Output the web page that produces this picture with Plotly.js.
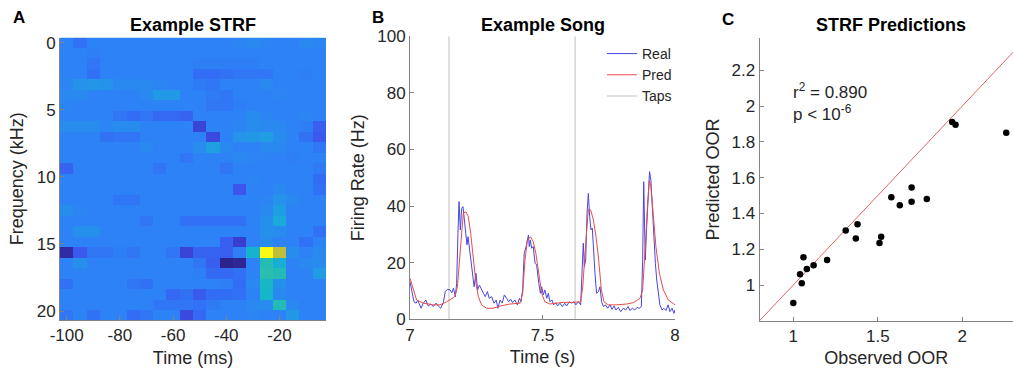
<!DOCTYPE html>
<html>
<head>
<meta charset="utf-8">
<script src="https://cdn.plot.ly/plotly-3.0.1.min.js"></script>
<style>
  html, body { margin: 0; padding: 0; background: #fff; overflow: hidden; }
  #chart { width: 1013px; height: 370px; }
</style>
</head>
<body>
<div id="chart"></div>
<script>
// ---------- Panel A: STRF ----------
const strfTime = [-100, -95, -90, -85, -80, -75, -70, -65, -60, -55, -50, -45, -40, -35, -30, -25, -20, -15, -10, -5];
const strfFreq = [0, 0.78, 1.56, 2.34, 3.12, 3.9, 4.68, 5.46, 6.24, 7.02, 7.8, 8.58, 9.36, 10.14, 10.92, 11.7, 12.48, 13.26, 14.04, 14.82, 15.6, 16.38, 17.16, 17.94, 18.72, 19.5, 20.28];
const strfWeights = [
  [0.22,0.18,0.22,0.22,0.22,0.22,0.22,0.22,0.22,0.22,0.22,0.22,0.22,0.23,0.24,0.23,0.22,0.22,0.24,0.23],
  [0.22,0.22,0.21,0.22,0.22,0.22,0.22,0.22,0.22,0.22,0.22,0.22,0.22,0.22,0.22,0.22,0.22,0.22,0.22,0.22],
  [0.22,0.22,0.19,0.22,0.22,0.22,0.22,0.22,0.22,0.22,0.21,0.21,0.21,0.21,0.21,0.22,0.22,0.22,0.22,0.22],
  [0.22,0.22,0.18,0.22,0.22,0.22,0.22,0.22,0.22,0.22,0.17,0.17,0.18,0.19,0.19,0.19,0.22,0.22,0.21,0.22],
  [0.23,0.27,0.28,0.27,0.24,0.24,0.24,0.23,0.22,0.22,0.20,0.19,0.22,0.22,0.22,0.24,0.22,0.22,0.22,0.22],
  [0.24,0.24,0.22,0.22,0.22,0.22,0.24,0.29,0.29,0.22,0.22,0.20,0.19,0.22,0.22,0.22,0.23,0.22,0.22,0.22],
  [0.23,0.22,0.22,0.22,0.22,0.22,0.22,0.22,0.22,0.22,0.22,0.19,0.19,0.21,0.22,0.22,0.22,0.22,0.22,0.22],
  [0.22,0.22,0.22,0.22,0.19,0.17,0.19,0.16,0.16,0.15,0.22,0.22,0.22,0.22,0.25,0.23,0.22,0.22,0.23,0.22],
  [0.25,0.25,0.25,0.23,0.25,0.25,0.22,0.22,0.22,0.22,0.09,0.22,0.22,0.23,0.25,0.24,0.24,0.22,0.21,0.14],
  [0.22,0.22,0.22,0.18,0.19,0.19,0.22,0.22,0.22,0.22,0.22,0.10,0.22,0.27,0.28,0.31,0.25,0.22,0.18,0.13],
  [0.22,0.22,0.22,0.22,0.22,0.22,0.24,0.22,0.22,0.22,0.25,0.32,0.24,0.22,0.22,0.24,0.24,0.22,0.22,0.19],
  [0.22,0.22,0.22,0.22,0.22,0.22,0.22,0.22,0.22,0.19,0.22,0.22,0.22,0.24,0.23,0.22,0.22,0.21,0.22,0.22],
  [0.15,0.22,0.22,0.22,0.22,0.22,0.22,0.19,0.22,0.22,0.22,0.22,0.19,0.22,0.22,0.22,0.22,0.22,0.22,0.20],
  [0.22,0.22,0.22,0.22,0.22,0.22,0.22,0.22,0.22,0.22,0.22,0.22,0.22,0.22,0.23,0.22,0.22,0.22,0.22,0.17],
  [0.22,0.22,0.22,0.22,0.22,0.22,0.22,0.22,0.22,0.22,0.22,0.22,0.22,0.12,0.22,0.22,0.24,0.22,0.22,0.18],
  [0.22,0.22,0.22,0.22,0.19,0.19,0.22,0.22,0.22,0.22,0.22,0.22,0.22,0.22,0.22,0.23,0.27,0.24,0.22,0.22],
  [0.25,0.23,0.22,0.22,0.22,0.22,0.22,0.22,0.22,0.22,0.22,0.22,0.22,0.22,0.22,0.24,0.31,0.22,0.22,0.22],
  [0.22,0.22,0.22,0.22,0.22,0.22,0.19,0.22,0.22,0.18,0.18,0.18,0.18,0.18,0.22,0.26,0.36,0.22,0.22,0.22],
  [0.22,0.26,0.26,0.22,0.22,0.22,0.22,0.22,0.22,0.22,0.22,0.22,0.22,0.22,0.22,0.26,0.25,0.22,0.22,0.18],
  [0.22,0.22,0.22,0.22,0.22,0.22,0.22,0.22,0.22,0.22,0.22,0.22,0.14,0.08,0.22,0.25,0.22,0.22,0.18,0.22],
  [0.03,0.13,0.19,0.19,0.21,0.19,0.22,0.22,0.19,0.09,0.15,0.15,0.14,0.21,0.40,1.00,0.80,0.25,0.22,0.24],
  [0.22,0.26,0.22,0.22,0.22,0.22,0.22,0.22,0.22,0.22,0.19,0.14,0.00,0.01,0.22,0.47,0.38,0.22,0.24,0.25],
  [0.22,0.22,0.22,0.22,0.22,0.22,0.22,0.22,0.22,0.22,0.21,0.16,0.16,0.18,0.22,0.48,0.46,0.22,0.22,0.30],
  [0.18,0.22,0.22,0.22,0.22,0.19,0.18,0.22,0.22,0.22,0.22,0.22,0.21,0.17,0.24,0.43,0.26,0.22,0.22,0.22],
  [0.22,0.22,0.22,0.22,0.22,0.22,0.22,0.22,0.16,0.18,0.13,0.17,0.17,0.18,0.22,0.42,0.24,0.22,0.22,0.22],
  [0.22,0.22,0.22,0.22,0.22,0.22,0.22,0.19,0.19,0.19,0.18,0.20,0.22,0.22,0.24,0.25,0.46,0.24,0.22,0.22],
  [0.19,0.22,0.18,0.22,0.22,0.17,0.19,0.22,0.22,0.10,0.16,0.22,0.22,0.22,0.23,0.22,0.22,0.28,0.22,0.22]
];
const strfTicks = [-100, -80, -60, -40, -20];
const strfTickLabels = ['-100', '-80', '-60', '-40', '-20'];
const freqTicks = [0, 5, 10, 15, 20];

// ---------- Panel B: example song ----------
const realTime = [7.000,7.006,7.015,7.023,7.029,7.035,7.042,7.050,7.060,7.069,7.078,7.088,7.098,7.107,7.116,7.126,7.133,7.141,7.151,7.158,7.164,7.171,7.176,7.181,7.185,7.190,7.195,7.200,7.205,7.211,7.215,7.219,7.226,7.234,7.242,7.249,7.255,7.262,7.269,7.277,7.284,7.292,7.299,7.308,7.317,7.325,7.332,7.340,7.348,7.356,7.365,7.372,7.380,7.387,7.396,7.405,7.413,7.419,7.425,7.431,7.438,7.443,7.447,7.450,7.454,7.459,7.465,7.472,7.478,7.486,7.492,7.497,7.503,7.509,7.516,7.522,7.528,7.536,7.542,7.550,7.557,7.566,7.575,7.584,7.591,7.601,7.610,7.619,7.626,7.635,7.644,7.650,7.654,7.658,7.663,7.668,7.673,7.678,7.683,7.688,7.693,7.698,7.704,7.711,7.717,7.723,7.730,7.738,7.746,7.755,7.762,7.770,7.777,7.786,7.795,7.805,7.814,7.823,7.830,7.839,7.848,7.857,7.865,7.873,7.878,7.882,7.886,7.888,7.893,7.899,7.904,7.909,7.914,7.919,7.926,7.931,7.937,7.943,7.951,7.958,7.966,7.974,7.981,7.989,7.996,8.000];
const realRate = [13.3,10.4,6.2,5.7,6.8,5.4,3.9,5.7,6.8,4.7,5.4,4.5,5.7,4.7,3.9,5.9,9.8,10.6,10.4,9.4,11.0,8.0,12.7,30.4,41.6,31.6,39.2,39.8,35.7,30.4,26.3,29.2,23.3,17.4,11.5,16.3,10.4,12.1,10.4,9.2,8.0,9.8,7.4,8.0,5.7,6.8,3.9,6.8,5.7,8.6,7.4,6.2,7.1,5.9,6.8,5.1,7.4,6.2,10.4,23.3,25.7,28.0,29.8,25.7,28.0,25.1,25.7,19.8,19.2,12.7,9.2,11.5,8.6,10.4,7.4,9.2,6.2,6.8,5.1,5.9,4.7,5.7,4.5,5.7,4.7,6.2,5.7,6.2,5.1,6.2,5.1,18.6,26.9,18.6,21.0,37.5,44.5,36.3,31.6,32.2,23.3,16.3,9.2,9.8,11.5,6.2,4.5,5.1,3.9,5.1,3.5,4.7,3.3,4.2,2.7,3.9,3.3,4.5,3.1,3.9,3.3,4.2,3.9,4.5,21.0,48.6,29.2,21.0,32.7,45.7,52.2,49.2,39.8,30.4,19.8,13.9,9.2,5.1,3.3,3.9,3.1,5.1,2.7,3.9,2.1,3.3];
const predTime = [7.000,7.013,7.025,7.050,7.088,7.113,7.138,7.164,7.170,7.179,7.186,7.194,7.201,7.211,7.220,7.229,7.239,7.249,7.258,7.270,7.289,7.314,7.340,7.377,7.415,7.425,7.434,7.443,7.455,7.465,7.475,7.486,7.497,7.509,7.528,7.553,7.579,7.616,7.644,7.652,7.658,7.664,7.673,7.682,7.692,7.702,7.712,7.722,7.732,7.748,7.780,7.818,7.843,7.868,7.878,7.884,7.891,7.896,7.903,7.909,7.918,7.928,7.941,7.956,7.975,7.994,8.000];
const predRate = [14.5,10.4,6.8,5.7,5.1,5.1,6.2,7.7,8.2,11.5,21.0,31.6,37.5,38.0,36.3,30.4,22.1,12.7,8.0,5.1,3.9,3.9,4.7,5.4,5.7,9.2,21.0,28.0,29.2,27.4,23.3,16.3,9.2,6.2,5.4,5.7,6.0,6.0,6.2,11.5,21.0,28.0,38.9,38.6,35.1,29.2,21.0,10.4,6.2,5.1,5.1,5.4,5.9,7.4,10.4,18.6,30.4,39.8,49.0,46.9,37.5,25.7,16.3,10.4,6.8,5.4,5.1];
const tapTimes = [7.147, 7.623];
const rateRange = [0, 100];
const songTicks = [7, 7.5, 8];

// ---------- Panel C: STRF predictions ----------
const observedOOR = [1.00,1.05,1.04,1.06,1.08,1.12,1.20,1.31,1.37,1.38,1.51,1.52,1.58,1.63,1.70,1.70,1.79,1.94,1.96,2.26];
const predictedOOR = [0.90,1.01,1.06,1.155,1.09,1.11,1.14,1.305,1.26,1.34,1.235,1.27,1.49,1.445,1.545,1.465,1.48,1.91,1.895,1.85];
const unityLine = [0.8, 2.4];
const oorXTicks = [1, 1.5, 2];
const oorYTicks = [1, 1.2, 1.4, 1.6, 1.8, 2, 2.2];
const statsText = 'r<sup>2</sup> = 0.890<br>p < 10<sup>-6</sup>';

// ---------- styling ----------
const W = 1013, H = 370;
const px = v => v / W;
const py = v => 1 - v / H;
const FONT = 'Liberation Sans, Arial, Helvetica, sans-serif';
const TXT = '#262626';
const AXC = 'rgb(130,130,130)';

const parulaLike = [
  [0.00, 'rgb(45,35,140)'],
  [0.06, 'rgb(55,50,195)'],
  [0.12, 'rgb(60,85,235)'],
  [0.17, 'rgb(50,110,245)'],
  [0.22, 'rgb(45,130,245)'],
  [0.28, 'rgb(35,150,232)'],
  [0.34, 'rgb(28,165,222)'],
  [0.42, 'rgb(20,182,200)'],
  [0.52, 'rgb(55,195,155)'],
  [0.70, 'rgb(150,195,90)'],
  [0.82, 'rgb(200,190,55)'],
  [0.90, 'rgb(235,205,40)'],
  [1.00, 'rgb(250,250,20)']
];

function axisBase(extra) {
  return Object.assign({
    showline: true, linecolor: AXC, linewidth: 1,
    ticks: 'inside', ticklen: 4, tickcolor: AXC, tickwidth: 1,
    tickfont: {size: 17, color: TXT, family: FONT},
    showgrid: false, zeroline: false, fixedrange: true
  }, extra);
}

const tapX = [], tapY = [];
tapTimes.forEach(t => { tapX.push(t, t, null); tapY.push(rateRange[0], rateRange[1], null); });

const traces = [
  {type: 'heatmap', x: strfTime, y: strfFreq, z: strfWeights, colorscale: parulaLike,
   zmin: 0, zmax: 1, showscale: false, xaxis: 'x', yaxis: 'y', hoverinfo: 'skip', showlegend: false},
  {type: 'scatter', mode: 'lines', x: tapX, y: tapY, name: 'Taps', xaxis: 'x2', yaxis: 'y2',
   line: {color: 'rgb(212,212,212)', width: 1.5}, legendrank: 3, hoverinfo: 'skip'},
  {type: 'scatter', mode: 'lines', x: realTime, y: realRate, name: 'Real', xaxis: 'x2', yaxis: 'y2',
   line: {color: 'rgb(70,70,225)', width: 1}, legendrank: 1},
  {type: 'scatter', mode: 'lines', x: predTime, y: predRate, name: 'Pred', xaxis: 'x2', yaxis: 'y2',
   line: {color: 'rgb(232,75,75)', width: 1}, legendrank: 2},
  {type: 'scatter', mode: 'lines', x: unityLine, y: unityLine, xaxis: 'x3', yaxis: 'y3',
   line: {color: 'rgb(228,100,100)', width: 1}, showlegend: false, hoverinfo: 'skip'},
  {type: 'scatter', mode: 'markers', x: observedOOR, y: predictedOOR, xaxis: 'x3', yaxis: 'y3',
   marker: {color: 'black', size: 6.5}, showlegend: false}
];

const titleFont = {size: 18, color: '#000', family: FONT};
const letterFont = {size: 17, color: '#000', family: FONT};
const axTitleFont = {size: 18, color: TXT, family: FONT};

const layout = {
  width: W, height: H,
  margin: {l: 0, r: 0, t: 0, b: 0},
  paper_bgcolor: '#fff', plot_bgcolor: '#fff',
  font: {family: FONT, color: TXT},
  showlegend: true,
  legend: {x: px(602), xanchor: 'left', y: py(38), yanchor: 'top',
           bgcolor: 'rgba(0,0,0,0)', font: {size: 14, color: TXT, family: FONT},
           tracegroupgap: 0, itemwidth: 30},
  xaxis: axisBase({domain: [px(60), px(326)], anchor: 'y', range: [-102.5, -2.5],
                   tickvals: strfTicks, ticktext: strfTickLabels,
                   title: {text: 'Time (ms)', font: axTitleFont, standoff: 6}}),
  yaxis: axisBase({domain: [py(320), py(37.5)], anchor: 'x', range: [20.67, -0.39],
                   tickvals: freqTicks, title: {text: 'Frequency (kHz)', font: axTitleFont, standoff: 8}}),
  xaxis2: axisBase({domain: [px(410), px(675)], anchor: 'y2', range: [7, 8],
                    tickvals: songTicks, title: {text: 'Time (s)', font: axTitleFont, standoff: 6}}),
  yaxis2: axisBase({domain: [py(319.3), py(36.3)], anchor: 'x2', range: rateRange,
                    dtick: 20, title: {text: 'Firing Rate (Hz)', font: axTitleFont, standoff: 7}}),
  xaxis3: axisBase({domain: [px(759.5), 1], anchor: 'y3', range: [0.8, 2.3],
                    tickvals: oorXTicks, title: {text: 'Observed OOR', font: axTitleFont, standoff: 6}}),
  yaxis3: axisBase({domain: [py(320.8), py(38)], anchor: 'x3', range: [0.8, 2.38],
                    tickvals: oorYTicks, title: {text: 'Predicted OOR', font: axTitleFont, standoff: 7}}),
  annotations: [
    {text: '<b>Example STRF</b>', x: px(193), y: py(25), xref: 'paper', yref: 'paper',
     xanchor: 'center', yanchor: 'middle', showarrow: false, font: titleFont},
    {text: '<b>Example Song</b>', x: px(542.5), y: py(25), xref: 'paper', yref: 'paper',
     xanchor: 'center', yanchor: 'middle', showarrow: false, font: titleFont},
    {text: '<b>STRF Predictions</b>', x: px(891), y: py(25), xref: 'paper', yref: 'paper',
     xanchor: 'center', yanchor: 'middle', showarrow: false, font: titleFont},
    {text: '<b>A</b>', x: px(19), y: py(18), xref: 'paper', yref: 'paper',
     xanchor: 'center', yanchor: 'middle', showarrow: false, font: letterFont},
    {text: '<b>B</b>', x: px(378), y: py(18), xref: 'paper', yref: 'paper',
     xanchor: 'center', yanchor: 'middle', showarrow: false, font: letterFont},
    {text: '<b>C</b>', x: px(728), y: py(19.5), xref: 'paper', yref: 'paper',
     xanchor: 'center', yanchor: 'middle', showarrow: false, font: letterFont},
    {text: statsText, x: px(791), y: py(102), xref: 'paper', yref: 'paper', align: 'left',
     xanchor: 'left', yanchor: 'middle', showarrow: false, font: {size: 17, color: TXT, family: FONT}}
  ]
};

Plotly.newPlot('chart', traces, layout, {staticPlot: true, displayModeBar: false});
</script>
</body>
</html>
